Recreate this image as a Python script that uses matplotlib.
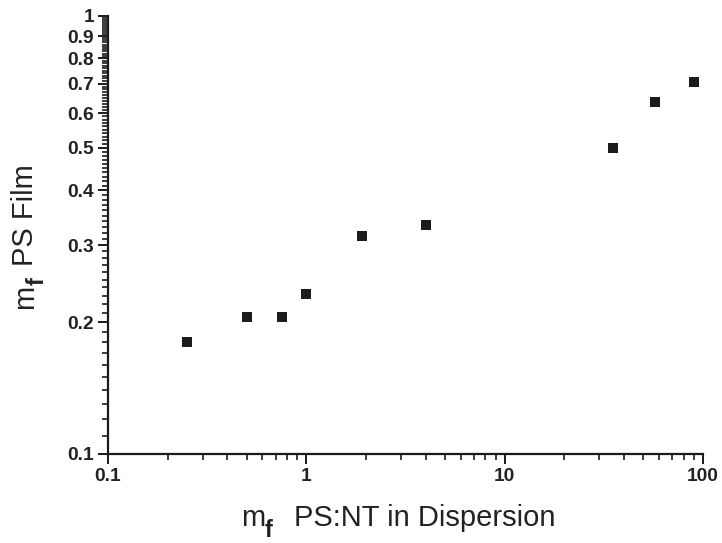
import numpy as np
import matplotlib
matplotlib.use("Agg")
import matplotlib.pyplot as plt
from matplotlib.ticker import FixedLocator, NullFormatter

plt.rcParams['font.family'] = ['Liberation Sans', 'DejaVu Sans']

# data
mf_dispersion = [0.25, 0.5, 0.75, 1.0, 1.9, 4.0, 35, 57, 90]
mf_film = [0.180, 0.206, 0.205, 0.232, 0.315, 0.334, 0.500, 0.635, 0.708]

x_major = [0.1, 1, 10, 100]
x_labels = ["0.1", "1", "10", "100"]
y_major = [0.1, 0.2, 0.3, 0.4, 0.5, 0.6, 0.7, 0.8, 0.9, 1.0]
y_labels = ["0.1", "0.2", "0.3", "0.4", "0.5", "0.6", "0.7", "0.8", "0.9", "1"]

W, H = 722, 543
fig = plt.figure(figsize=(W / 100, H / 100), dpi=100)
ax = fig.add_axes([108 / W, 1 - 454 / H, 595 / W, 438 / H])

ax.plot(mf_dispersion, mf_film, linestyle='none', marker='s',
        markersize=6.7, color='#1c1c1c', markeredgewidth=0)

ax.set_xscale('log')
ax.set_yscale('log')
ax.set_xlim(0.1, 100)
ax.set_ylim(0.1, 1)

for side in ['top', 'right']:
    ax.spines[side].set_visible(False)
for side in ['left', 'bottom']:
    ax.spines[side].set_linewidth(1.6)
    ax.spines[side].set_color('#1a1a1a')

ax.xaxis.set_major_locator(FixedLocator(x_major))
ax.set_xticklabels(x_labels)
x_minor = [m * d for d in [0.1, 1, 10] for m in range(2, 10)]
ax.xaxis.set_minor_locator(FixedLocator(x_minor))
ax.xaxis.set_minor_formatter(NullFormatter())

ax.yaxis.set_major_locator(FixedLocator(y_major))
ax.set_yticklabels(y_labels)
y_minor = [v / 100 for v in range(11, 100) if v % 10 != 0]
ax.yaxis.set_minor_locator(FixedLocator(y_minor))
ax.yaxis.set_minor_formatter(NullFormatter())

ax.tick_params(which='major', direction='out', length=7, width=1.4,
               labelsize=13.8, color='#1a1a1a', labelcolor='#222222', pad=3)
ax.tick_params(which='minor', direction='out', length=4, width=1.2,
               color='#1a1a1a')
for lab in ax.get_xticklabels() + ax.get_yticklabels():
    lab.set_fontweight('bold')


def px(x, y):
    # pixel position (from top left) to figure fraction
    return x / W, 1 - y / H


# axis titles, with the lowered "f" of the original
lbl = dict(fontsize=21, color='#222222', ha='left', va='baseline')
sub = dict(lbl, fontsize=17, fontweight='bold')
fig.text(*px(241, 526), "m", **lbl)
fig.text(*px(265, 537), "f", **sub)
fig.text(*px(294, 526), "PS:NT in Dispersion", **lbl)

rot = dict(lbl, rotation=90, rotation_mode='anchor')
rsub = dict(sub, rotation=90, rotation_mode='anchor')
fig.text(*px(33, 309), "m", **rot)
fig.text(*px(44, 285), "f", **rsub)
fig.text(*px(33, 266), "PS Film", **rot)

fig.savefig("out.png", dpi=100)
